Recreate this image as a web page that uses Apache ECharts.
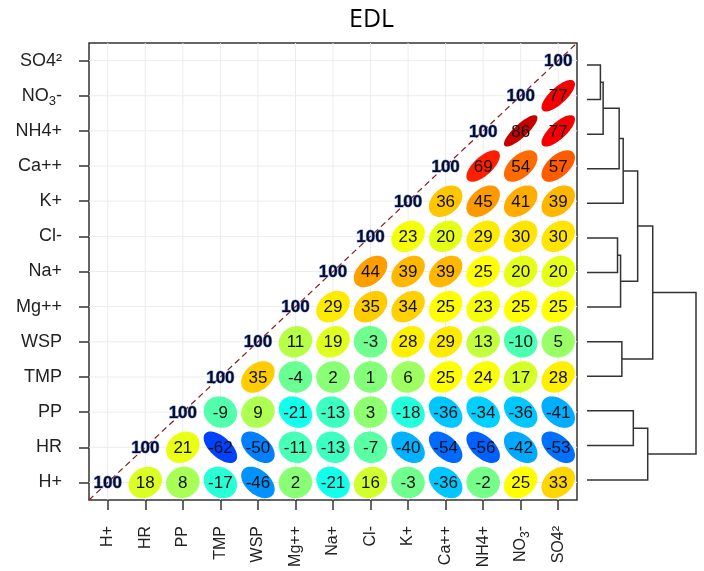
<!DOCTYPE html>
<html><head><meta charset="utf-8">
<script src="https://cdn.jsdelivr.net/npm/echarts@6/dist/echarts.min.js"></script>
<style>html,body{margin:0;padding:0;background:#fff}#chart{width:704px;height:571px}</style>
</head><body><div id="chart"></div>
<script>
// variable order (bottom-to-top rows, left-to-right columns)
const variables = ['H+','HR','PP','TMP','WSP','Mg++','Na+','Cl-','K+','Ca++','NH4+','NO3-','SO4²'];
// correlations x100: row variable vs the variables to its right
const rowHplus = [18, 8, -17, -46, 2, -21, 16, -3, -36, -2, 25, 33];
const rowHR    = [21, -62, -50, -11, -13, -7, -40, -54, -56, -42, -53];
const rowPP    = [-9, 9, -21, -13, 3, -18, -36, -34, -36, -41];
const rowTMP   = [35, -4, 2, 1, 6, 25, 24, 17, 28];
const rowWSP   = [11, 19, -3, 28, 29, 13, -10, 5];
const rowMg    = [29, 35, 34, 25, 23, 25, 25];
const rowNa    = [44, 39, 39, 25, 20, 20];
const rowCl    = [23, 20, 29, 30, 30];
const rowK     = [36, 45, 41, 39];
const rowCa    = [69, 54, 57];
const rowNH4   = [86, 77];
const rowNO3   = [77];
const rowSO4   = [];
const diagValue = 100;
// jet colour ramp from -1 to 1
const colorStops = ['#00007F','#0000FF','#007FFF','#00FFFF','#7FFF7F','#FFFF00','#FF7F00','#FF0000','#7F0000'];
// dendrogram, hclust style: negative = leaf number (1 = H+ ... 13 = SO4), positive = earlier merge
const mergeLeft   = [-13, 1, 2, 3, -8, 5, 4, -5, 7, -3, 10, 9];
const mergeRight  = [-12, -11, -10, -9, -7, -6, 6, -4, 8, -2, -1, 11];
const mergeHeight = [0.123, 0.148, 0.295, 0.332, 0.28, 0.308, 0.465, 0.32, 0.603, 0.425, 0.557, 1.0];

const rows = [rowHplus,rowHR,rowPP,rowTMP,rowWSP,rowMg,rowNa,rowCl,rowK,rowCa,rowNH4,rowNO3,rowSO4];
const cells = [];
rows.forEach((r, i) => r.forEach((v, k) => cells.push([i + 1 + k, i, v / 100])));
const diag = variables.map((_, i) => [i, i, diagValue]);
const gridIdx = variables.map((_, i) => [i, i]);

const nodeY = [];
const dendro = [];
function child(c) { return c < 0 ? [0, -c - 1] : [mergeHeight[c - 1], nodeY[c - 1]]; }
mergeHeight.forEach((h, m) => {
  const a = child(mergeLeft[m]), b = child(mergeRight[m]);
  nodeY[m] = (a[1] + b[1]) / 2;
  dendro.push([a[0], a[1], h, b[1], b[0]]);
});

const FONT = '"Liberation Sans", Arial, sans-serif';
function fmt(v) { return v === 'NO3-' ? '{b|NO}{s|3}{b|-}' : v; }

const chart = echarts.init(document.getElementById('chart'));
chart.setOption({
  animation: false,
  title: { text: 'EDL', left: 344, top: 2, textStyle: { fontFamily: '"Open Sans", sans-serif', fontSize: 25, fontWeight: 'normal', color: '#000' } },
  grid: [
    { left: 89, top: 43, width: 488, height: 457, show: true, borderColor: '#333', borderWidth: 1.5, backgroundColor: 'transparent' },
    { left: 587, top: 65, width: 109, height: 415 }
  ],
  xAxis: [
    { type: 'category', gridIndex: 0, data: variables, boundaryGap: true,
      axisLine: { show: false },
      axisTick: { show: true, alignWithLabel: true, length: 10, lineStyle: { color: '#333', width: 1.5 } },
      axisLabel: { rotate: 90, margin: 26, fontSize: 16, color: '#222', fontFamily: FONT, formatter: fmt,
        rich: { b: { fontSize: 16, fontFamily: FONT, color: '#222', lineHeight: 22 }, s: { fontSize: 12, fontFamily: FONT, color: '#222', verticalAlign: 'bottom', lineHeight: 12 } } },
      splitLine: { show: false } },
    { type: 'value', gridIndex: 1, min: 0, max: 1, show: false }
  ],
  yAxis: [
    { type: 'category', gridIndex: 0, data: variables, boundaryGap: true,
      axisLine: { show: false },
      axisTick: { show: true, alignWithLabel: true, length: 10, lineStyle: { color: '#333', width: 1.5 } },
      axisLabel: { margin: 27, fontSize: 18, color: '#222', fontFamily: FONT, formatter: fmt,
        rich: { b: { fontSize: 18, fontFamily: FONT, color: '#222', lineHeight: 24 }, s: { fontSize: 13, fontFamily: FONT, color: '#222', verticalAlign: 'bottom', lineHeight: 13 } } },
      splitLine: { show: false } },
    { type: 'value', gridIndex: 1, min: 0, max: 12, show: false }
  ],
  visualMap: { show: false, type: 'continuous', min: -1, max: 1, dimension: 2, seriesIndex: 1, inRange: { color: colorStops } },
  series: [
    { type: 'custom', xAxisIndex: 0, yAxisIndex: 0, silent: true, z: 1, data: gridIdx,
      renderItem: (params, api) => {
        const c = api.coord([api.value(0), api.value(1)]);
        const cs = params.coordSys;
        return { type: 'group', children: [
          { type: 'line', shape: { x1: c[0], y1: cs.y, x2: c[0], y2: cs.y + cs.height }, style: { stroke: '#ececec', lineWidth: 1 } },
          { type: 'line', shape: { x1: cs.x, y1: c[1], x2: cs.x + cs.width, y2: c[1] }, style: { stroke: '#ececec', lineWidth: 1 } }
        ] };
      } },
    { type: 'custom', xAxisIndex: 0, yAxisIndex: 0, silent: true, z: 2, data: cells,
      renderItem: (params, api) => {
        const r = api.value(2);
        const c = api.coord([api.value(0), api.value(1)]);
        const s = api.size([1, 1]);
        const a = Math.acos(r);
        const pts = [];
        for (let k = 0; k < 72; k++) {
          const t = 2 * Math.PI * k / 72;
          pts.push([c[0] + 0.85 * s[0] * Math.cos(t + a / 2) / 2, c[1] - 0.85 * s[1] * Math.cos(t - a / 2) / 2]);
        }
        const col = api.visual('color');
        return { type: 'group', children: [
          { type: 'polygon', shape: { points: pts }, style: { fill: col, stroke: col, lineWidth: 1.6, lineJoin: 'round' } },
          { type: 'text', x: c[0], y: c[1] + 1, style: { text: String(Math.round(r * 100)), align: 'center', verticalAlign: 'middle', font: '17px ' + FONT, fill: '#111' } }
        ] };
      } },
    { type: 'custom', xAxisIndex: 0, yAxisIndex: 0, silent: true, z: 3, data: diag,
      renderItem: (params, api) => {
        const c = api.coord([api.value(0), api.value(1)]);
        const s = api.size([1, 1]);
        const children = [];
        if (params.dataIndex === 0) {
          const last = api.coord([variables.length - 1, variables.length - 1]);
          children.push({ type: 'line', shape: { x1: c[0] - s[0] / 2, y1: c[1] + s[1] / 2, x2: last[0] + s[0] / 2, y2: last[1] - s[1] / 2 },
            style: { stroke: '#8b1a1a', lineWidth: 1.2, lineDash: [6, 4] } });
        }
        children.push({ type: 'text', x: c[0], y: c[1] + 1, z2: 10, style: { text: String(api.value(2)), align: 'center', verticalAlign: 'middle',
          font: 'bold 17px ' + FONT, fill: '#0b0b25', stroke: 'rgba(70,120,230,0.7)', lineWidth: 1.2, strokeFirst: true } });
        return { type: 'group', children };
      } },
    { type: 'custom', xAxisIndex: 1, yAxisIndex: 1, silent: true, data: dendro,
      encode: { x: [0, 2, 4], y: [1, 3] },
      renderItem: (params, api) => {
        const p = [api.coord([api.value(0), api.value(1)]), api.coord([api.value(2), api.value(1)]),
                   api.coord([api.value(2), api.value(3)]), api.coord([api.value(4), api.value(3)])];
        return { type: 'polyline', shape: { points: p }, style: { stroke: '#333', lineWidth: 1.5, fill: null } };
      } }
  ]
});
</script></body></html>
